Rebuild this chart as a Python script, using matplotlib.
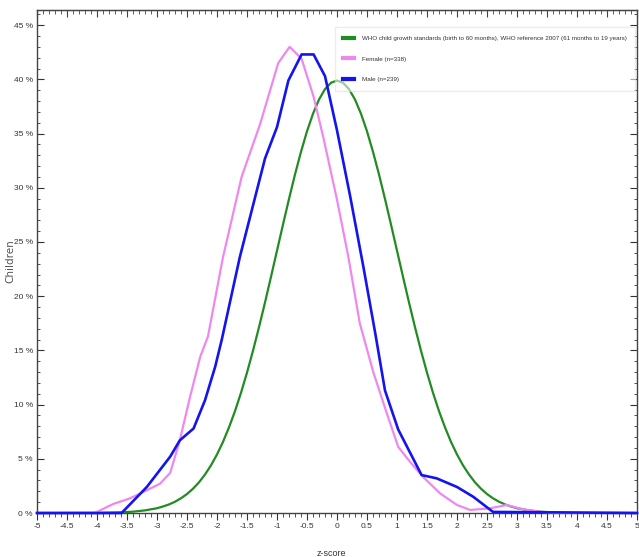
import numpy as np
import matplotlib.pyplot as plt
from matplotlib.ticker import MultipleLocator, FuncFormatter

FONT = ['Liberation Sans', 'DejaVu Sans']

GREEN = '#238b23'
PINK  = '#ee88ee'
BLUE  = '#1414f0'

# WHO reference curve (percent of children per z-score)
who_z = [-5, -4.0, -3.8, -3.6, -3.4, -3.2, -3.0, -2.9, -2.8, -2.7, -2.6, -2.5,
         -2.4, -2.3, -2.2, -2.1, -2.0, -1.9, -1.8, -1.7, -1.6, -1.5, -1.4, -1.3,
         -1.2, -1.1, -1.0, -0.9, -0.8, -0.7, -0.6, -0.5, -0.4, -0.3, -0.2, -0.1,
         0.0, 0.1, 0.2, 0.3, 0.4, 0.5, 0.6, 0.7, 0.8, 0.9, 1.0, 1.1, 1.2, 1.3,
         1.4, 1.5, 1.6, 1.7, 1.8, 1.9, 2.0, 2.1, 2.2, 2.3, 2.4, 2.5, 2.6, 2.7,
         2.8, 2.9, 3.0, 3.2, 3.4, 3.6, 3.8, 4.0, 5]
who_pct = [0.0, 0.01, 0.03, 0.06, 0.12, 0.24, 0.44, 0.60, 0.79, 1.04, 1.36, 1.75,
           2.24, 2.83, 3.55, 4.40, 5.40, 6.56, 7.90, 9.40, 11.09, 12.95, 14.97, 17.14,
           19.42, 21.79, 24.20, 26.61, 28.97, 31.23, 33.32, 35.21, 36.83, 38.14, 39.10, 39.69,
           39.89, 39.69, 39.10, 38.14, 36.83, 35.21, 33.32, 31.23, 28.97, 26.61, 24.20, 21.79,
           19.42, 17.14, 14.97, 12.95, 11.09, 9.40, 7.90, 6.56, 5.40, 4.40, 3.55, 2.83,
           2.24, 1.75, 1.36, 1.04, 0.79, 0.60, 0.44, 0.24, 0.12, 0.06, 0.03, 0.01, 0.0]

# Female (n=338)
fem_z = [-5, -4.05, -4.0, -3.73, -3.45, -3.17, -2.95, -2.78, -2.62, -2.45, -2.28,
         -2.15, -1.9, -1.59, -1.28, -0.98, -0.79, -0.59, -0.39, -0.23, 0.0, 0.19,
         0.38, 0.61, 0.83, 1.02, 1.22, 1.44, 1.72, 2.0, 2.22, 2.55, 2.83, 3.1,
         3.38, 3.6, 5]
fem_pct = [0, 0, 0.1, 0.83, 1.35, 2.1, 2.7, 3.7, 6.7, 10.7, 14.4,
           16.3, 23.6, 31.0, 35.9, 41.5, 43.0, 41.9, 38.4, 34.7, 28.9, 23.6,
           17.5, 12.9, 9.2, 6.1, 4.7, 3.3, 1.8, 0.74, 0.28, 0.43, 0.74, 0.34,
           0.12, 0, 0]

# Male (n=239)
male_z = [-5, -3.59, -3.17, -2.78, -2.62, -2.39, -2.2, -2.03, -1.92, -1.62, -1.2,
          -1.0, -0.81, -0.59, -0.39, -0.2, 0.0, 0.22, 0.44, 0.64, 0.8, 1.02,
          1.41, 1.66, 2.0, 2.27, 2.6, 5]
male_pct = [0, 0, 2.4, 5.2, 6.7, 7.8, 10.4, 13.5, 16.0, 23.6, 32.7,
            35.6, 39.9, 42.3, 42.3, 40.3, 35.3, 29.2, 22.7, 16.5, 11.3, 7.7,
            3.5, 3.2, 2.4, 1.5, 0.1, 0]

fig = plt.figure(figsize=(6.39, 5.57), dpi=100)
ax = fig.add_axes([37 / 639, 44 / 557, 600 / 639, 503 / 557])

ax.plot(who_z, who_pct, color=GREEN, lw=1.6, clip_on=False, zorder=3,
        label='WHO child growth standards (birth to 60 months), WHO reference 2007 (61 months to 19 years)')
ax.plot(fem_z, fem_pct, color=PINK, lw=1.6, clip_on=False, zorder=4, label='Female (n=338)')
ax.plot(male_z, male_pct, color=BLUE, lw=1.9, clip_on=False, zorder=5, label='Male (n=239)')

ax.set_xlim(-5, 5)
ax.set_ylim(0, 46.4)

ax.xaxis.set_major_locator(MultipleLocator(0.5))
ax.xaxis.set_minor_locator(MultipleLocator(0.1))
ax.yaxis.set_major_locator(MultipleLocator(5))
ax.yaxis.set_minor_locator(MultipleLocator(1))
ax.xaxis.set_major_formatter(FuncFormatter(lambda v, p: f"{v:g}"))
ax.yaxis.set_major_formatter(FuncFormatter(lambda v, p: f"{v:g} %"))

ax.tick_params(axis='x', which='both', direction='out', bottom=True, top=False,
               labelsize=6, colors='#333333', pad=2)
ax.tick_params(axis='x', which='major', length=5)
ax.tick_params(axis='x', which='minor', length=3)
ax.tick_params(axis='y', which='both', direction='in', left=True, right=True,
               labelsize=6, colors='#333333', pad=3)
ax.tick_params(axis='y', which='major', length=5)
ax.tick_params(axis='y', which='minor', length=2.5)

# mirrored ticks on top spine
sec = ax.secondary_xaxis('top')
sec.xaxis.set_major_locator(MultipleLocator(0.5))
sec.xaxis.set_minor_locator(MultipleLocator(0.1))
sec.tick_params(which='both', direction='in', labeltop=False, colors='#444444')
sec.tick_params(which='major', length=5)
sec.tick_params(which='minor', length=3)

for lab in ax.get_xticklabels() + ax.get_yticklabels():
    lab.set_family(FONT)

for s in ax.spines.values():
    s.set_color('#444444')
    s.set_linewidth(1.0)
sec.spines['top'].set_color('#444444')

ax.set_xlabel('z-score', fontsize=6.5, family=FONT, color='#333333')
ax.xaxis.set_label_coords(0.49, -0.071)
ax.set_ylabel('Children', fontsize=7.5, color='#555555')
ax.yaxis.set_label_coords(-0.036, 0.5)

leg = ax.legend(loc='upper right', bbox_to_anchor=(0.997, 0.966),
                prop={'family': FONT, 'size': 4.5}, handlelength=1.7, handletextpad=1.2,
                labelspacing=2.4, borderpad=1.4, fancybox=False, framealpha=0.55,
                edgecolor='#dddddd', borderaxespad=0)
for t in leg.get_texts():
    t.set_color('#333333')
for h in leg.legend_handles:
    h.set_linewidth(3)

fig.savefig('out.png', dpi=100)
